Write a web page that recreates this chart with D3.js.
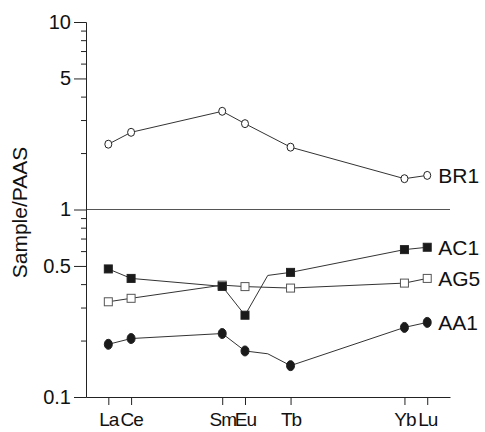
<!DOCTYPE html>
<html>
<head>
<meta charset="utf-8">
<script src="https://cdn.jsdelivr.net/npm/d3@7/dist/d3.min.js"></script>
<style>
  body { margin: 0; background: #fff; }
  svg text { font-family: "Liberation Sans", Arial, Helvetica, sans-serif; fill: #111; }
</style>
</head>
<body>
<div id="chart"></div>
<script>
'use strict';

/* Data */

// elements along the x axis, placed by atomic number (Gd has no marker or label)
var elements = ['La', 'Ce', 'Sm', 'Eu', 'Gd', 'Tb', 'Yb', 'Lu']
var atomicNumbers = [57, 58, 62, 63, 64, 65, 70, 71]
var tickElements = ['La', 'Ce', 'Sm', 'Eu', 'Tb', 'Yb', 'Lu']

var br1 = [2.23, 2.58, 3.34, 2.87, null, 2.15, 1.46, 1.52]
var ag5 = [0.322, 0.336, 0.395, 0.388, null, 0.381, 0.405, 0.429]
var ac1 = [0.482, 0.429, 0.389, 0.273, 0.445, 0.462, 0.611, 0.629]
var aa1 = [0.191, 0.205, 0.218, 0.176, 0.170, 0.147, 0.235, 0.250]

var majorTicks = [0.1, 0.5, 1, 5, 10]
var minorTicks = [0.2, 0.3, 0.4, 0.6, 0.7, 0.8, 0.9, 2, 3, 4, 6, 7, 8, 9]

var seriesNames = ['AG5', 'BR1', 'AC1', 'AA1']
var seriesValues = [ag5, br1, ac1, aa1]
var seriesMarkers = ['openSquare', 'openCircle', 'filledSquare', 'filledCircle']

/* Chart */

var W = 485, H = 432
var margin = {top: 22, right: 35, bottom: 35, left: 86}

var svg = d3.select('#chart').append('svg')
  .attr('width', W)
  .attr('height', H)

var x = d3.scaleLinear()
  .domain([56.02, 72.0])
  .range([margin.left, W - margin.right])

var y = d3.scaleLog()
  .domain([0.1, 10])
  .range([H - margin.bottom, margin.top])

// reference line at 1
svg.append('line')
  .attr('x1', margin.left)
  .attr('x2', W - margin.right)
  .attr('y1', y(1))
  .attr('y2', y(1))
  .attr('stroke', '#555')
  .attr('stroke-width', 1)

// y axis
var yMajor = d3.axisLeft(y)
  .tickValues(majorTicks)
  .tickFormat(function(d){ return d })
  .tickSizeInner(12)
  .tickSizeOuter(0)
  .tickPadding(3)

var yMinor = d3.axisLeft(y)
  .tickValues(minorTicks)
  .tickFormat('')
  .tickSizeInner(5)
  .tickSizeOuter(0)

var gy = svg.append('g')
  .attr('transform', 'translate(' + margin.left + ',0)')
  .call(yMajor)
svg.append('g')
  .attr('transform', 'translate(' + margin.left + ',0)')
  .call(yMinor)

svg.selectAll('.domain, .tick line')
  .attr('stroke', '#222')
gy.selectAll('.tick text')
  .attr('font-size', 20)
  .attr('fill', '#111')

// x axis
var tickNumbers = tickElements.map(function(e){ return atomicNumbers[elements.indexOf(e)] })
var xAxis = d3.axisBottom(x)
  .tickValues(tickNumbers)
  .tickFormat(function(d){ return elements[atomicNumbers.indexOf(d)] })
  .tickSizeInner(8)
  .tickSizeOuter(0)
  .tickPadding(8)

var gx = svg.append('g')
  .attr('transform', 'translate(0,' + (H - margin.bottom) + ')')
  .call(xAxis)
gx.selectAll('.domain, .tick line')
  .attr('stroke', '#222')
gx.selectAll('.tick text')
  .attr('font-size', 19)
  .attr('letter-spacing', '-1px')
  .attr('fill', '#111')

// y title
svg.append('text')
  .attr('transform', 'translate(27,' + (y(1) + 3) + ') rotate(-90)')
  .attr('text-anchor', 'middle')
  .attr('font-size', 21)
  .text('Sample/PAAS')

// series
var line = d3.line()
  .x(function(d){ return x(d.n) })
  .y(function(d){ return y(d.v) })

seriesNames.forEach(function(name, si){
  var pts = []
  seriesValues[si].forEach(function(v, i){
    if (v !== null) pts.push({el: elements[i], n: atomicNumbers[i], v: v})
  })

  svg.append('path')
    .datum(pts)
    .attr('fill', 'none')
    .attr('stroke', '#333')
    .attr('stroke-width', 1)
    .attr('d', line)

  var marked = pts.filter(function(p){ return tickElements.indexOf(p.el) >= 0 })
  var kind = seriesMarkers[si]
  var g = svg.append('g')
  if (kind === 'openCircle' || kind === 'filledCircle') {
    g.selectAll('ellipse')
      .data(marked)
      .enter().append('ellipse')
        .attr('cx', function(d){ return x(d.n) })
        .attr('cy', function(d){ return y(d.v) })
        .attr('rx', kind === 'openCircle' ? 3.5 : 4)
        .attr('ry', kind === 'openCircle' ? 4 : 5)
        .attr('fill', kind === 'openCircle' ? '#fff' : '#1a1a1a')
        .attr('stroke', '#222')
        .attr('stroke-width', 1)
  } else {
    g.selectAll('rect')
      .data(marked)
      .enter().append('rect')
        .attr('x', function(d){ return x(d.n) - 4 })
        .attr('y', function(d){ return y(d.v) - 4 })
        .attr('width', 8)
        .attr('height', 8)
        .attr('fill', kind === 'openSquare' ? '#fff' : '#1a1a1a')
        .attr('stroke', kind === 'openSquare' ? '#555' : '#222')
        .attr('stroke-width', 1)
  }

  var last = pts[pts.length - 1]
  svg.append('text')
    .attr('x', x(last.n) + 11)
    .attr('y', y(last.v))
    .attr('dy', '0.36em')
    .attr('font-size', 21)
    .text(name)
})
</script>
</body>
</html>
